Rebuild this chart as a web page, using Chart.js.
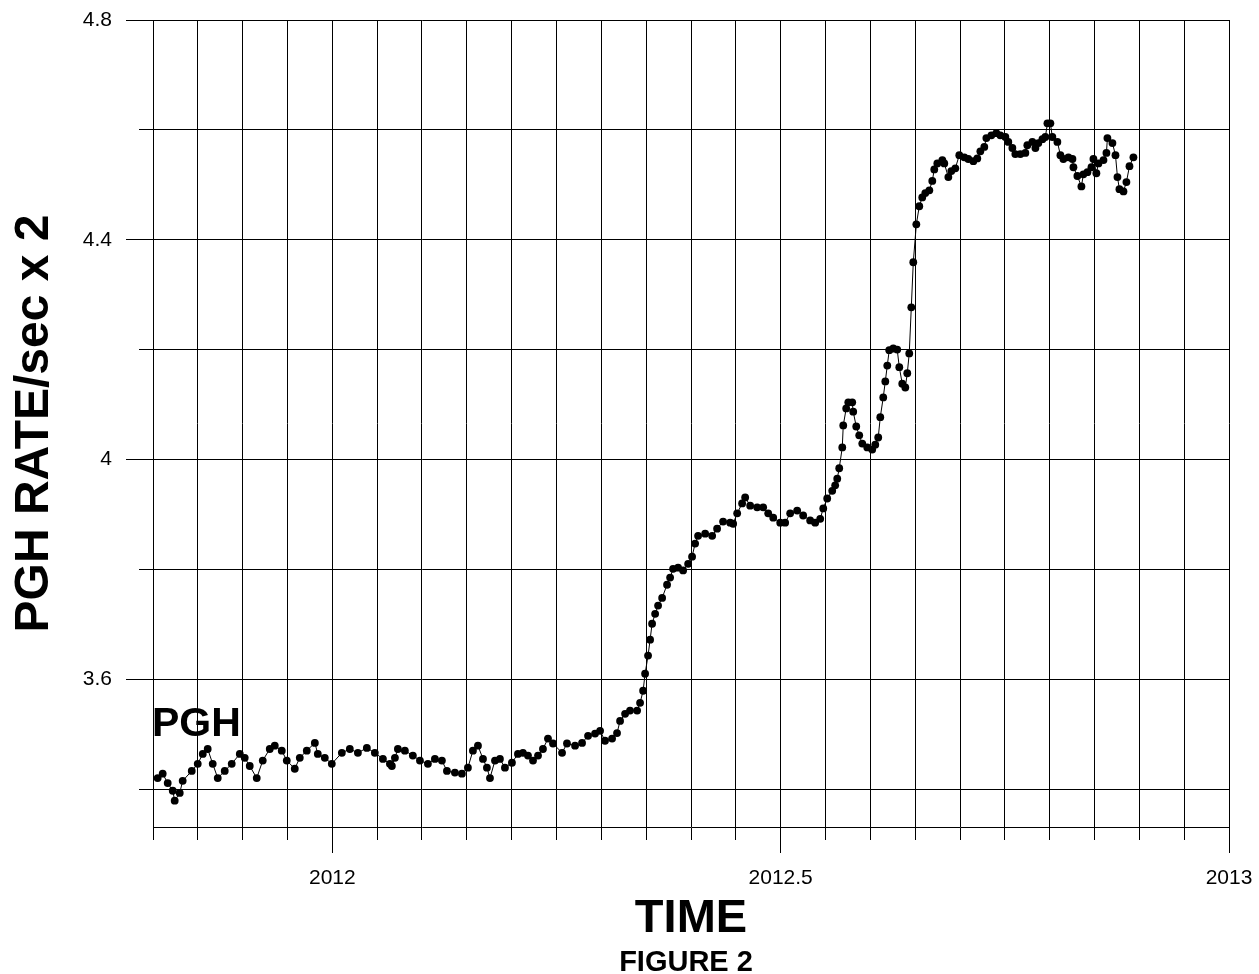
<!DOCTYPE html>
<html>
<head>
<meta charset="utf-8">
<title>PGH rate - Figure 2</title>
<script src="https://cdn.jsdelivr.net/npm/chart.js@4.4.0/dist/chart.umd.min.js"></script>
<style>
  html, body { margin: 0; padding: 0; background: #fff; }
  #out { display: block; }
</style>
</head>
<body>
<canvas id="out" width="1259" height="974"></canvas>
<script>
// time of each reading, decimal years
const years = [
  2011.8052, 2011.8108, 2011.8164, 2011.8220, 2011.8242, 2011.8298, 2011.8331, 2011.8432, 2011.8499, 2011.8555,
  2011.8610, 2011.8666, 2011.8722, 2011.8800, 2011.8878, 2011.8968, 2011.9023, 2011.9079, 2011.9157, 2011.9224,
  2011.9302, 2011.9358, 2011.9436, 2011.9492, 2011.9581, 2011.9637, 2011.9715, 2011.9805, 2011.9838, 2011.9916,
  2011.9994, 2012.0106, 2012.0195, 2012.0285, 2012.0385, 2012.0474, 2012.0564, 2012.0642, 2012.0664, 2012.0698,
  2012.0731, 2012.0809, 2012.0898, 2012.0977, 2012.1066, 2012.1144, 2012.1222, 2012.1278, 2012.1367, 2012.1445,
  2012.1512, 2012.1568, 2012.1624, 2012.1680, 2012.1724, 2012.1758, 2012.1814, 2012.1869, 2012.1925, 2012.2003,
  2012.2070, 2012.2126, 2012.2182, 2012.2238, 2012.2294, 2012.2349, 2012.2405, 2012.2461, 2012.2562, 2012.2617,
  2012.2707, 2012.2785, 2012.2852, 2012.2930, 2012.2986, 2012.3041, 2012.3120, 2012.3175, 2012.3209, 2012.3265,
  2012.3320, 2012.3399, 2012.3432, 2012.3466, 2012.3488, 2012.3521, 2012.3544, 2012.3566, 2012.3600, 2012.3633,
  2012.3678, 2012.3733, 2012.3767, 2012.3800, 2012.3856, 2012.3912, 2012.3968, 2012.4012, 2012.4046, 2012.4079,
  2012.4158, 2012.4236, 2012.4291, 2012.4358, 2012.4437, 2012.4470, 2012.4515, 2012.4570, 2012.4604, 2012.4660,
  2012.4738, 2012.4805, 2012.4861, 2012.4917, 2012.4995, 2012.5050, 2012.5106, 2012.5184, 2012.5251, 2012.5329,
  2012.5385, 2012.5441, 2012.5475, 2012.5519, 2012.5575, 2012.5608, 2012.5631, 2012.5653, 2012.5687, 2012.5698,
  2012.5731, 2012.5754, 2012.5798, 2012.5809, 2012.5843, 2012.5876, 2012.5910, 2012.5966, 2012.6021, 2012.6055,
  2012.6088, 2012.6111, 2012.6144, 2012.6167, 2012.6189, 2012.6211, 2012.6256, 2012.6300, 2012.6323, 2012.6356,
  2012.6390, 2012.6412, 2012.6434, 2012.6457, 2012.6479, 2012.6513, 2012.6546, 2012.6579, 2012.6613, 2012.6658,
  2012.6691, 2012.6713, 2012.6747, 2012.6803, 2012.6825, 2012.6870, 2012.6903, 2012.6948, 2012.6992, 2012.7048,
  2012.7093, 2012.7149, 2012.7193, 2012.7227, 2012.7271, 2012.7294, 2012.7350, 2012.7405, 2012.7450, 2012.7506,
  2012.7539, 2012.7584, 2012.7617, 2012.7673, 2012.7729, 2012.7751, 2012.7807, 2012.7841, 2012.7874, 2012.7919,
  2012.7952, 2012.7975, 2012.8008, 2012.8030, 2012.8086, 2012.8120, 2012.8153, 2012.8209, 2012.8254, 2012.8265,
  2012.8309, 2012.8354, 2012.8376, 2012.8421, 2012.8466, 2012.8488, 2012.8521, 2012.8544, 2012.8600, 2012.8633,
  2012.8644, 2012.8700, 2012.8734, 2012.8756, 2012.8778, 2012.8823, 2012.8856, 2012.8890, 2012.8934
];

// PGH rate/sec x 2 at each reading
const rates = [
  3.420, 3.428, 3.411, 3.397, 3.379, 3.393, 3.415, 3.433, 3.446, 3.464,
  3.473, 3.446, 3.420, 3.433, 3.446, 3.464, 3.457, 3.442, 3.420, 3.452,
  3.473, 3.479, 3.470, 3.452, 3.437, 3.457, 3.470, 3.484, 3.464, 3.457,
  3.446, 3.466, 3.473, 3.466, 3.475, 3.466, 3.455, 3.446, 3.442, 3.457,
  3.473, 3.470, 3.461, 3.452, 3.446, 3.455, 3.452, 3.433, 3.430, 3.428,
  3.439, 3.470, 3.479, 3.455, 3.439, 3.420, 3.452, 3.455, 3.439, 3.448,
  3.464, 3.466, 3.461, 3.452, 3.461, 3.473, 3.492, 3.483, 3.466, 3.483,
  3.479, 3.484, 3.497, 3.501, 3.506, 3.488, 3.492, 3.502, 3.524, 3.537,
  3.543, 3.543, 3.557, 3.579, 3.610, 3.643, 3.672, 3.701, 3.719, 3.734,
  3.748, 3.772, 3.785, 3.801, 3.803, 3.798, 3.810, 3.823, 3.847, 3.861,
  3.865, 3.861, 3.874, 3.887, 3.885, 3.883, 3.902, 3.920, 3.931, 3.916,
  3.913, 3.913, 3.902, 3.894, 3.885, 3.885, 3.902, 3.907, 3.898, 3.889,
  3.885, 3.892, 3.911, 3.929, 3.943, 3.953, 3.965, 3.984, 4.022, 4.062,
  4.093, 4.104, 4.104, 4.087, 4.060, 4.044, 4.029, 4.022, 4.018, 4.027,
  4.040, 4.077, 4.113, 4.142, 4.171, 4.199, 4.202, 4.200, 4.168, 4.138,
  4.131, 4.157, 4.193, 4.277, 4.359, 4.428, 4.461, 4.477, 4.485, 4.490,
  4.507, 4.528, 4.539, 4.545, 4.539, 4.514, 4.525, 4.530, 4.554, 4.550,
  4.547, 4.543, 4.548, 4.561, 4.569, 4.585, 4.590, 4.594, 4.590, 4.587,
  4.578, 4.567, 4.556, 4.556, 4.558, 4.572, 4.578, 4.567, 4.576, 4.583,
  4.587, 4.612, 4.612, 4.587, 4.578, 4.554, 4.547, 4.550, 4.547, 4.532,
  4.516, 4.497, 4.519, 4.523, 4.532, 4.547, 4.521, 4.539, 4.545, 4.558,
  4.585, 4.576, 4.554, 4.514, 4.492, 4.488, 4.505, 4.534, 4.550
];

// labelled ticks
const xTickYears = [2012, 2012.5, 2013];
const yTickLabels = [3.6, 4, 4.4, 4.8];

// axis ranges and grid spacing
const xMin = 2011.8, xMax = 2013, xStep = 0.05;
const yMin = 3.331, yMax = 4.8, yGridFrom = 3.4, yStep = 0.2;

const FONT = '"Liberation Sans", Arial, Helvetica, sans-serif';
Chart.defaults.font.family = FONT;
Chart.defaults.color = '#000';

function stepTicks(from, to, step) {
  const out = [];
  const n = Math.round((to - from) / step);
  for (let i = 0; i <= n; i++) {
    out.push({ value: +(from + i * step).toFixed(4) });
  }
  return out;
}

// fixed box sizes, no extra room for overhanging labels
const fixBox = (w, h) => scale => {
  if (w != null) scale.width = w;
  if (h != null) scale.height = h;
  scale.paddingLeft = scale.paddingRight = 0;
  scale.paddingTop = scale.paddingBottom = 0;
};

// the "PGH" tag and the figure caption
const extras = {
  id: 'extras',
  afterDraw(chart) {
    const { ctx, chartArea: area, scales: { x, y } } = chart;
    ctx.save();
    ctx.fillStyle = '#000';
    ctx.font = 'bold 41px ' + FONT;
    ctx.textBaseline = 'alphabetic';
    ctx.textAlign = 'left';
    ctx.fillText('PGH', x.getPixelForValue(xMin) - 1, y.getPixelForValue(3.497));

    ctx.font = 'bold 29px ' + FONT;
    ctx.textAlign = 'center';
    ctx.fillText('FIGURE 2', (area.left + area.right) / 2 - 5, chart.height - 3);
    ctx.restore();
  }
};

const chartConfig = {
  type: 'line',
  data: {
    datasets: [{
      label: 'PGH',
      data: years.map((t, i) => ({ x: t, y: rates[i] })),
      xAxisID: 'x',
      yAxisID: 'y',
      borderColor: '#000',
      borderWidth: 1,
      backgroundColor: '#000',
      pointBackgroundColor: '#000',
      pointBorderWidth: 0,
      pointRadius: 3.9,
      tension: 0
    }]
  },
  options: {
    responsive: false,
    devicePixelRatio: 1,
    animation: false,
    layout: { padding: { top: 20, right: 30, left: 0, bottom: 29 } },
    plugins: {
      legend: { display: false },
      tooltip: { enabled: false },
      title: { display: false }
    },
    scales: {
      // grid every 0.05 yr with short ticks
      x: {
        type: 'linear',
        position: 'bottom',
        weight: 0,
        min: xMin,
        max: xMax,
        afterBuildTicks: scale => { scale.ticks = stepTicks(xMin, xMax, xStep); },
        afterFit: fixBox(null, 13),
        grid: { color: '#000', lineWidth: 1, tickLength: 13 },
        border: { color: '#000', width: 1 },
        ticks: { display: false }
      },
      // labelled years: long ticks continue below the short ones
      x2: {
        type: 'linear',
        position: 'bottom',
        weight: 1,
        min: xMin,
        max: xMax,
        afterBuildTicks: scale => { scale.ticks = xTickYears.map(v => ({ value: v })); },
        afterFit: fixBox(null, 105),
        grid: { drawOnChartArea: false, color: '#000', lineWidth: 1, tickLength: 13 },
        border: { display: false },
        ticks: {
          autoSkip: false,
          maxRotation: 0,
          padding: 13,
          font: { size: 21 },
          callback: v => String(v)
        },
        title: {
          display: true,
          text: 'TIME',
          font: { size: 47, weight: 'bold', lineHeight: 1 },
          padding: { top: 0, bottom: 2 }
        }
      },
      y: {
        type: 'linear',
        position: 'left',
        weight: 0,
        min: yMin,
        max: yMax,
        afterBuildTicks: scale => { scale.ticks = stepTicks(yGridFrom, yMax, yStep); },
        afterFit: fixBox(14, null),
        grid: { color: '#000', lineWidth: 1, tickLength: 14 },
        border: { color: '#000', width: 1 },
        ticks: { display: false }
      },
      y2: {
        type: 'linear',
        position: 'left',
        weight: 1,
        min: yMin,
        max: yMax,
        afterBuildTicks: scale => { scale.ticks = yTickLabels.map(v => ({ value: v })); },
        afterFit: fixBox(139, null),
        grid: { drawOnChartArea: false, color: '#000', lineWidth: 1, tickLength: 13 },
        border: { display: false },
        ticks: {
          padding: 14,
          font: { size: 21 },
          callback: v => String(v)
        },
        title: {
          display: true,
          text: 'PGH RATE/sec x 2',
          font: { size: 48, weight: 'bold', lineHeight: 1 },
          padding: { top: 11, bottom: 0 }
        }
      }
    }
  },
  plugins: [extras]
};

window.chart = new Chart(document.getElementById('out').getContext('2d'), chartConfig);
</script>
</body>
</html>
